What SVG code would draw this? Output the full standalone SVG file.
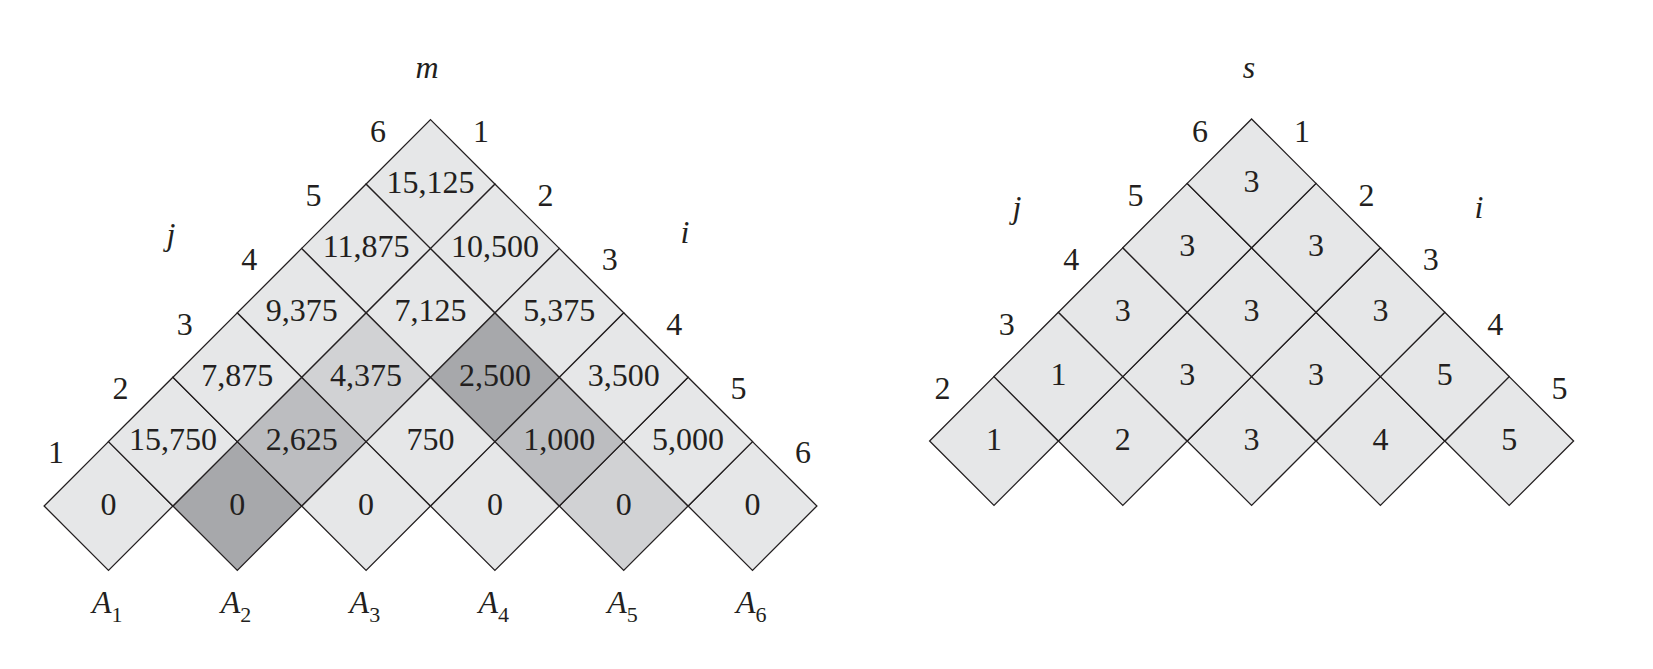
<svg xmlns="http://www.w3.org/2000/svg" width="1653" height="669" viewBox="0 0 1653 669">
<style>
.c{stroke:#231f20;stroke-width:1.3;stroke-linejoin:miter}
.f0{fill:#e6e7e8}
.f1{fill:#d1d2d4}
.f2{fill:#bcbdc0}
.f3{fill:#a7a8ab}
text{font-family:"Liberation Serif","Times New Roman",serif;font-size:32px;fill:#231f20}
.v{text-anchor:middle}
.it{font-style:italic}
.sub{font-size:22px;font-style:normal}
</style>
<defs>
<polygon id="dm" points="0,-64.4 64.4,0 0,64.4 -64.4,0"/>
</defs>
<rect width="1653" height="669" fill="#ffffff"/>
<g id="m-table">
<g id="m11"><use href="#dm" x="108.5" y="506" class="c f0"/><text class="v" x="108.5" y="514.5">0</text></g>
<g id="m22"><use href="#dm" x="237.3" y="506" class="c f3"/><text class="v" x="237.3" y="514.5">0</text></g>
<g id="m33"><use href="#dm" x="366.1" y="506" class="c f0"/><text class="v" x="366.1" y="514.5">0</text></g>
<g id="m44"><use href="#dm" x="494.9" y="506" class="c f0"/><text class="v" x="494.9" y="514.5">0</text></g>
<g id="m55"><use href="#dm" x="623.7" y="506" class="c f1"/><text class="v" x="623.7" y="514.5">0</text></g>
<g id="m66"><use href="#dm" x="752.5" y="506" class="c f0"/><text class="v" x="752.5" y="514.5">0</text></g>
<g id="m12"><use href="#dm" x="172.9" y="441.6" class="c f0"/><text class="v" x="172.9" y="450.1">15,750</text></g>
<g id="m23"><use href="#dm" x="301.7" y="441.6" class="c f2"/><text class="v" x="301.7" y="450.1">2,625</text></g>
<g id="m34"><use href="#dm" x="430.5" y="441.6" class="c f0"/><text class="v" x="430.5" y="450.1">750</text></g>
<g id="m45"><use href="#dm" x="559.3" y="441.6" class="c f2"/><text class="v" x="559.3" y="450.1">1,000</text></g>
<g id="m56"><use href="#dm" x="688.1" y="441.6" class="c f0"/><text class="v" x="688.1" y="450.1">5,000</text></g>
<g id="m13"><use href="#dm" x="237.3" y="377.2" class="c f0"/><text class="v" x="237.3" y="385.7">7,875</text></g>
<g id="m24"><use href="#dm" x="366.1" y="377.2" class="c f1"/><text class="v" x="366.1" y="385.7">4,375</text></g>
<g id="m35"><use href="#dm" x="494.9" y="377.2" class="c f3"/><text class="v" x="494.9" y="385.7">2,500</text></g>
<g id="m46"><use href="#dm" x="623.7" y="377.2" class="c f0"/><text class="v" x="623.7" y="385.7">3,500</text></g>
<g id="m14"><use href="#dm" x="301.7" y="312.8" class="c f0"/><text class="v" x="301.7" y="321.3">9,375</text></g>
<g id="m25"><use href="#dm" x="430.5" y="312.8" class="c f0"/><text class="v" x="430.5" y="321.3">7,125</text></g>
<g id="m36"><use href="#dm" x="559.3" y="312.8" class="c f0"/><text class="v" x="559.3" y="321.3">5,375</text></g>
<g id="m15"><use href="#dm" x="366.1" y="248.4" class="c f0"/><text class="v" x="366.1" y="256.9">11,875</text></g>
<g id="m26"><use href="#dm" x="494.9" y="248.4" class="c f0"/><text class="v" x="494.9" y="256.9">10,500</text></g>
<g id="m16"><use href="#dm" x="430.5" y="184" class="c f0"/><text class="v" x="430.5" y="192.5">15,125</text></g>
</g>
<g id="m-labels">
<text class="v it" x="427" y="78">m</text>
<text class="v it" x="171" y="245">j</text>
<text class="v it" x="685" y="243">i</text>
<text class="v" x="378" y="142">6</text>
<text class="v" x="313.6" y="206.2">5</text>
<text class="v" x="249.2" y="270.4">4</text>
<text class="v" x="184.8" y="334.6">3</text>
<text class="v" x="120.4" y="398.8">2</text>
<text class="v" x="56" y="463">1</text>
<text class="v" x="481" y="142">1</text>
<text class="v" x="545.4" y="206.2">2</text>
<text class="v" x="609.8" y="270.4">3</text>
<text class="v" x="674.2" y="334.6">4</text>
<text class="v" x="738.6" y="398.8">5</text>
<text class="v" x="803" y="463">6</text>
<text class="it" x="92" y="613">A<tspan class="sub" dy="9">1</tspan></text>
<text class="it" x="220.8" y="613">A<tspan class="sub" dy="9">2</tspan></text>
<text class="it" x="349.6" y="613">A<tspan class="sub" dy="9">3</tspan></text>
<text class="it" x="478.4" y="613">A<tspan class="sub" dy="9">4</tspan></text>
<text class="it" x="607.2" y="613">A<tspan class="sub" dy="9">5</tspan></text>
<text class="it" x="736" y="613">A<tspan class="sub" dy="9">6</tspan></text>
</g>
<g id="s-table">
<g id="s12"><use href="#dm" x="994" y="441" class="c f0"/><text class="v" x="994" y="449.5">1</text></g>
<g id="s23"><use href="#dm" x="1122.8" y="441" class="c f0"/><text class="v" x="1122.8" y="449.5">2</text></g>
<g id="s34"><use href="#dm" x="1251.6" y="441" class="c f0"/><text class="v" x="1251.6" y="449.5">3</text></g>
<g id="s45"><use href="#dm" x="1380.4" y="441" class="c f0"/><text class="v" x="1380.4" y="449.5">4</text></g>
<g id="s56"><use href="#dm" x="1509.2" y="441" class="c f0"/><text class="v" x="1509.2" y="449.5">5</text></g>
<g id="s13"><use href="#dm" x="1058.4" y="376.6" class="c f0"/><text class="v" x="1058.4" y="385.1">1</text></g>
<g id="s24"><use href="#dm" x="1187.2" y="376.6" class="c f0"/><text class="v" x="1187.2" y="385.1">3</text></g>
<g id="s35"><use href="#dm" x="1316" y="376.6" class="c f0"/><text class="v" x="1316" y="385.1">3</text></g>
<g id="s46"><use href="#dm" x="1444.8" y="376.6" class="c f0"/><text class="v" x="1444.8" y="385.1">5</text></g>
<g id="s14"><use href="#dm" x="1122.8" y="312.2" class="c f0"/><text class="v" x="1122.8" y="320.7">3</text></g>
<g id="s25"><use href="#dm" x="1251.6" y="312.2" class="c f0"/><text class="v" x="1251.6" y="320.7">3</text></g>
<g id="s36"><use href="#dm" x="1380.4" y="312.2" class="c f0"/><text class="v" x="1380.4" y="320.7">3</text></g>
<g id="s15"><use href="#dm" x="1187.2" y="247.8" class="c f0"/><text class="v" x="1187.2" y="256.3">3</text></g>
<g id="s26"><use href="#dm" x="1316" y="247.8" class="c f0"/><text class="v" x="1316" y="256.3">3</text></g>
<g id="s16"><use href="#dm" x="1251.6" y="183.4" class="c f0"/><text class="v" x="1251.6" y="191.9">3</text></g>
</g>
<g id="s-labels">
<text class="v it" x="1249" y="78">s</text>
<text class="v it" x="1017" y="218">j</text>
<text class="v it" x="1479" y="218">i</text>
<text class="v" x="1200" y="142">6</text>
<text class="v" x="1135.6" y="206.2">5</text>
<text class="v" x="1071.2" y="270.4">4</text>
<text class="v" x="1006.8" y="334.6">3</text>
<text class="v" x="942.4" y="398.8">2</text>
<text class="v" x="1302" y="142">1</text>
<text class="v" x="1366.4" y="206.2">2</text>
<text class="v" x="1430.8" y="270.4">3</text>
<text class="v" x="1495.2" y="334.6">4</text>
<text class="v" x="1559.6" y="398.8">5</text>
</g>
<g id="connectors"/>
</svg>
